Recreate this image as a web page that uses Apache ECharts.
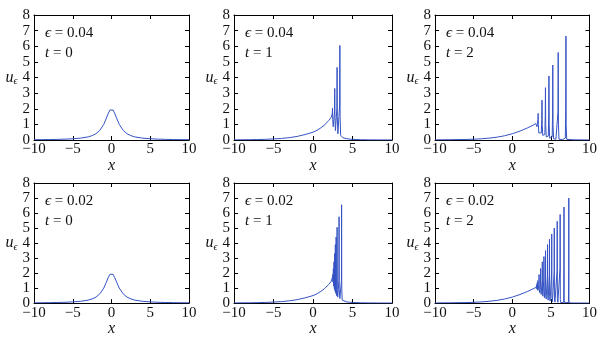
<!DOCTYPE html>
<html>
<head>
<meta charset="utf-8">
<script src="https://cdn.jsdelivr.net/npm/echarts@6/dist/echarts.min.js"></script>
<style>html,body{margin:0;padding:0;background:#fff;}</style>
</head>
<body>
<div id="main" style="width:600px;height:338px;"></div>
<script type="text/javascript">
// tick labels
var xTicks = [-10, -5, 0, 5, 10];
var yTicks = [0, 1, 2, 3, 4, 5, 6, 7, 8];
// panel labels
var epsLabels = ['0.04', '0.04', '0.04', '0.02', '0.02', '0.02'];
var tLabels = ['0', '1', '2', '0', '1', '2'];

// eps = 0.04, t = 0
var e04t0 = [[-10,0.02],[-9,0.024],[-8,0.03],[-7,0.04],[-6,0.055],[-5,0.08],[-4,0.12],[-3,0.2],[-2.5,0.28],[-2,0.4],[-1.5,0.62],[-1,1.0],[-0.7,1.35],[-0.4,1.72],[-0.2,1.92],[0,2.0],[0.2,1.92],[0.4,1.72],[0.7,1.35],[1,1.0],[1.5,0.62],[2,0.4],[2.5,0.28],[3,0.2],[4,0.12],[5,0.08],[6,0.055],[7,0.04],[8,0.03],[9,0.024],[10,0.02]];
// eps = 0.04, t = 1
var e04t1 = [[-10,0.01],[-9,0.015],[-8,0.02],[-7,0.03],[-6,0.045],[-5,0.07],[-4,0.1],[-3,0.15],[-2,0.23],[-1,0.35],[0,0.5],[0.5,0.62],[1,0.78],[1.5,0.98],[2,1.25],[2.3,1.45],[2.4,1.55],[2.44,1.7],[2.47,2.05],[2.5,1.3],[2.56,0.85],[2.66,0.9],[2.72,1.8],[2.75,3.3],[2.78,1.4],[2.84,0.6],[2.96,0.7],[3.02,2.0],[3.05,4.65],[3.08,1.5],[3.15,0.4],[3.3,0.45],[3.37,2.2],[3.4,6.05],[3.43,1.5],[3.5,0.3],[3.6,0.2],[3.8,0.14],[4.2,0.09],[4.6,0.06],[5,0.04],[6,0.02],[7,0.01],[8,0.006],[10,0.003]];
// eps = 0.04, t = 2
var e04t2 = [[-10,0.01],[-8,0.02],[-6,0.035],[-5,0.05],[-4,0.08],[-3,0.12],[-2,0.18],[-1,0.27],[0,0.4],[1,0.57],[2,0.78],[2.7,0.95],[3.05,1.05],[3.2,0.85],[3.3,0.9],[3.33,1.3],[3.35,1.7],[3.38,1.0],[3.44,0.45],[3.6,0.35],[3.76,0.45],[3.82,1.3],[3.85,2.55],[3.88,1.0],[3.95,0.3],[4.1,0.22],[4.22,0.35],[4.27,1.5],[4.3,3.35],[4.33,1.0],[4.4,0.2],[4.55,0.13],[4.67,0.25],[4.72,1.6],[4.75,4.1],[4.78,1.0],[4.85,0.12],[5.05,0.08],[5.17,0.2],[5.22,1.7],[5.25,4.8],[5.28,1.0],[5.35,0.08],[5.65,0.05],[5.87,0.15],[5.92,1.8],[5.95,5.6],[5.98,1.0],[6.05,0.05],[6.5,0.03],[6.87,0.12],[6.92,2.0],[6.95,6.65],[6.98,1.0],[7.05,0.04],[8,0.01],[10,0.003]];
// eps = 0.02, t = 0
var e02t0 = [[-10,0.02],[-9,0.024],[-8,0.03],[-7,0.04],[-6,0.055],[-5,0.08],[-4,0.12],[-3,0.2],[-2.5,0.28],[-2,0.4],[-1.5,0.62],[-1,1.0],[-0.7,1.35],[-0.4,1.72],[-0.2,1.92],[0,2.0],[0.2,1.92],[0.4,1.72],[0.7,1.35],[1,1.0],[1.5,0.62],[2,0.4],[2.5,0.28],[3,0.2],[4,0.12],[5,0.08],[6,0.055],[7,0.04],[8,0.03],[9,0.024],[10,0.02]];
// eps = 0.02, t = 1
var e02t1 = [[-10,0.01],[-9,0.015],[-8,0.02],[-7,0.03],[-6,0.045],[-5,0.07],[-4,0.1],[-3,0.15],[-2,0.23],[-1,0.35],[0,0.5],[0.5,0.62],[1,0.78],[1.5,0.98],[2,1.25],[2.3,1.45],[2.45,1.57],[2.48,1.75],[2.5,1.9],[2.52,1.4],[2.54,1.3],[2.56,1.5],[2.58,2.3],[2.6,1.3],[2.62,1.15],[2.64,1.4],[2.66,2.75],[2.68,1.1],[2.71,0.95],[2.725,1.5],[2.74,3.3],[2.76,1.1],[2.79,0.8],[2.81,1.4],[2.83,3.9],[2.85,1.0],[2.88,0.65],[2.91,1.3],[2.93,4.4],[2.95,0.9],[2.99,0.5],[3.03,1.2],[3.05,5.05],[3.07,0.9],[3.13,0.4],[3.25,0.5],[3.28,1.5],[3.3,5.75],[3.32,0.9],[3.4,0.3],[3.55,0.35],[3.6,1.5],[3.62,6.55],[3.64,1.0],[3.7,0.2],[3.85,0.15],[4.2,0.09],[4.6,0.06],[5,0.04],[6,0.02],[7,0.01],[8,0.006],[10,0.003]];
// eps = 0.02, t = 2
var e02t2 = [[-10,0.01],[-8,0.02],[-6,0.035],[-5,0.05],[-4,0.08],[-3,0.12],[-2,0.18],[-1,0.27],[0,0.4],[1,0.57],[2,0.78],[2.7,0.95],[3.1,1.05],[3.14,1.1],[3.16,1.2],[3.18,0.95],[3.2,0.9],[3.21,1.05],[3.23,1.35],[3.25,0.9],[3.27,0.85],[3.29,1.0],[3.31,1.5],[3.33,0.85],[3.37,0.78],[3.44,0.85],[3.46,1.3],[3.47,1.9],[3.49,0.9],[3.54,0.7],[3.63,0.75],[3.655,1.4],[3.67,2.3],[3.69,0.9],[3.74,0.58],[3.85,0.62],[3.875,1.5],[3.89,2.75],[3.91,0.8],[3.96,0.46],[4.06,0.5],[4.085,1.6],[4.1,3.1],[4.12,0.7],[4.17,0.36],[4.27,0.4],[4.295,1.7],[4.31,3.5],[4.33,0.6],[4.39,0.28],[4.53,0.3],[4.555,1.8],[4.57,3.9],[4.59,0.5],[4.65,0.2],[4.78,0.22],[4.805,1.9],[4.82,4.25],[4.84,0.45],[4.9,0.14],[5.07,0.16],[5.095,2.0],[5.11,4.6],[5.13,0.4],[5.2,0.1],[5.4,0.12],[5.425,2.1],[5.44,5.0],[5.46,0.35],[5.53,0.07],[5.78,0.09],[5.805,2.2],[5.82,5.45],[5.84,0.3],[5.91,0.05],[6.16,0.07],[6.185,2.3],[6.2,5.9],[6.22,0.25],[6.29,0.03],[6.66,0.05],[6.685,2.4],[6.7,6.4],[6.72,0.2],[6.79,0.02],[7.28,0.04],[7.305,2.5],[7.32,7.0],[7.34,0.15],[7.4,0.01],[8,0.005],[10,0.002]];

var panels = [e04t0, e04t1, e04t2, e02t0, e02t1, e02t2];

var lefts = [34, 234, 435];
var widths = [155, 158, 157];
var tops = [15, 183];
var heights = [125, 124];
var serif = "'Liberation Serif', 'DejaVu Serif', serif";
var lineColor = '#3553c4';

var grids = [], xAxes = [], yAxes = [], series = [], graphics = [];
var fmtMinus = function (v) { return String(v).replace('-', '\u2212'); };

for (var i = 0; i < 6; i++) {
    var c = i % 3, r = Math.floor(i / 3);
    grids.push({ left: lefts[c], top: tops[r], width: widths[c], height: heights[r], containLabel: false });
    var xBase = {
        gridIndex: i, type: 'value',
        min: xTicks[0], max: xTicks[xTicks.length - 1], interval: xTicks[1] - xTicks[0],
        axisLine: { show: true, onZero: false, lineStyle: { color: '#000', width: 1 } },
        axisTick: { show: true, inside: true, length: 4, lineStyle: { color: '#000' } },
        splitLine: { show: false }
    };
    var yBase = {
        gridIndex: i, type: 'value',
        min: yTicks[0], max: yTicks[yTicks.length - 1], interval: yTicks[1] - yTicks[0],
        axisLine: { show: true, onZero: false, lineStyle: { color: '#000', width: 1 } },
        axisTick: { show: true, inside: true, length: 4, lineStyle: { color: '#000' } },
        splitLine: { show: false }
    };
    xAxes.push(Object.assign({}, xBase, {
        position: 'bottom',
        axisLabel: { margin: 2, fontSize: 15, fontFamily: serif, color: '#111', formatter: fmtMinus },
        name: 'x', nameLocation: 'middle', nameGap: 15,
        nameTextStyle: { fontSize: 16, fontFamily: serif, fontStyle: 'italic', color: '#111' }
    }));
    xAxes.push(Object.assign({}, xBase, { position: 'top', axisLabel: { show: false } }));
    yAxes.push(Object.assign({}, yBase, {
        position: 'left',
        axisLabel: { margin: 4, fontSize: 15, fontFamily: serif, color: '#111' },
        name: '{u|u}{s|\u03f5}', nameLocation: 'middle', nameGap: 16, nameRotate: 0,
        nameTextStyle: {
            rich: {
                u: { fontSize: 16, fontFamily: serif, fontStyle: 'italic', color: '#111' },
                s: { fontSize: 10, fontFamily: serif, fontStyle: 'italic', color: '#111', padding: [8, 0, 0, 0] }
            }
        }
    }));
    yAxes.push(Object.assign({}, yBase, { position: 'right', axisLabel: { show: false } }));
    series.push({
        type: 'line', xAxisIndex: 2 * i, yAxisIndex: 2 * i,
        data: panels[i], showSymbol: false, smooth: false, animation: false,
        lineStyle: { color: lineColor, width: 1 }
    });
    var rich = {
        i: { fontSize: 15, fontFamily: serif, fontStyle: 'italic', fill: '#111' },
        n: { fontSize: 15, fontFamily: serif, fill: '#111' }
    };
    graphics.push({
        type: 'text', left: lefts[c] + 11, top: tops[r] + 11,
        style: { text: '{i|\u03f5}{n| = ' + epsLabels[i] + '}', rich: rich }
    });
    graphics.push({
        type: 'text', left: lefts[c] + 11, top: tops[r] + 31,
        style: { text: '{i|t}{n| = ' + tLabels[i] + '}', rich: rich }
    });
}

var myChart = echarts.init(document.getElementById('main'));
var option = {
    backgroundColor: '#fff',
    animation: false,
    grid: grids,
    xAxis: xAxes,
    yAxis: yAxes,
    series: series,
    graphic: graphics
};
myChart.setOption(option);
</script>
</body>
</html>
